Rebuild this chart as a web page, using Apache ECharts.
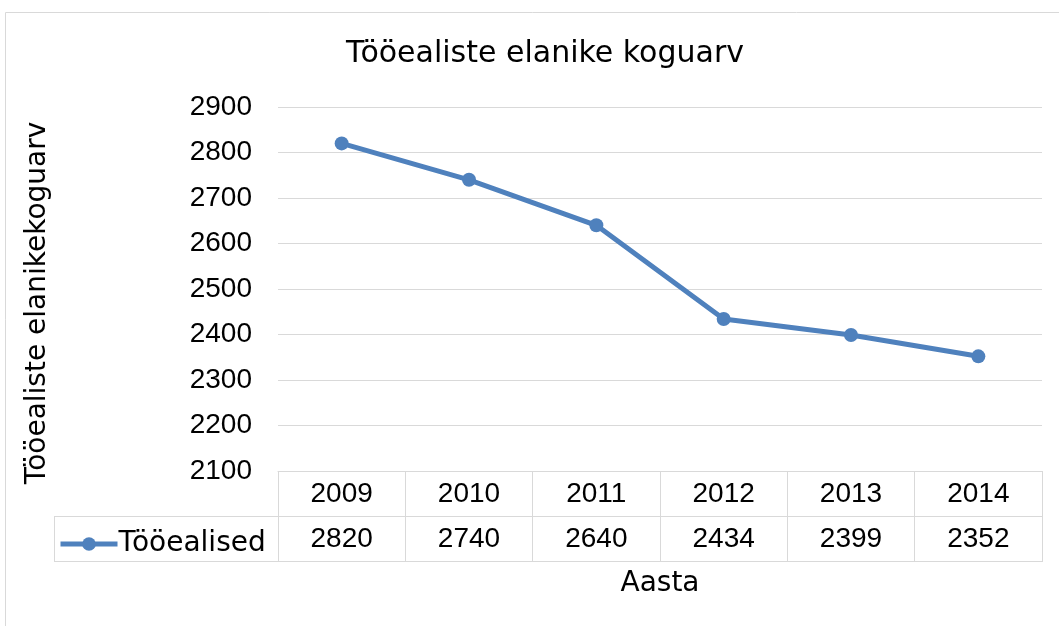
<!DOCTYPE html>
<html>
<head>
<meta charset="utf-8">
<script src="https://cdn.jsdelivr.net/npm/echarts@6/dist/echarts.min.js"></script>
<style>
  html, body { margin: 0; padding: 0; background: #fff; }
  #main { width: 1059px; height: 626px; }
</style>
</head>
<body>
<div id="main"></div>
<script>
// andmed
const years = ['2009', '2010', '2011', '2012', '2013', '2014'];
const workingAge = [2820, 2740, 2640, 2434, 2399, 2352];
const seriesName = 'Tööealised';

const numFont = 'Liberation Sans';
const txtFont = 'DejaVu Sans';
const gridCol = '#d9d9d9';
const lineCol = '#4f81bd';

// tabeli piirid (px)
const gLeft = 278, gRight = 17, gTop = 107, gBottom = 155;
const tabTop = 626 - gBottom;     // 471
const rowH = 45;
const legLeft = 54;
const tabRight = 1059 - gRight;

const chart = echarts.init(document.getElementById('main'));

const option = {
  animation: false,
  title: {
    text: 'Tööealiste elanike koguarv',
    left: 540,
    top: 34,
    textAlign: 'center',
    textStyle: { fontFamily: txtFont, fontSize: 30, fontWeight: 'normal', color: '#000' }
  },
  legend: {
    data: [seriesName],
    left: legLeft - 1,
    top: tabTop + rowH + 9,
    itemWidth: 57,
    itemHeight: 17,
    itemGap: 4,
    lineStyle: { width: 5 },
    textStyle: { fontFamily: txtFont, fontSize: 28, color: '#000', padding: [0, 0, 0, -4] }
  },
  grid: { left: gLeft, right: gRight, top: gTop, bottom: gBottom },
  xAxis: [
    {
      type: 'category',
      data: years,
      boundaryGap: true,
      axisLine: { lineStyle: { color: gridCol, width: 1 } },
      axisTick: { show: true, length: rowH * 2 + 1, lineStyle: { color: gridCol } },
      axisLabel: { margin: 9, fontFamily: numFont, fontSize: 28, color: '#000' },
      splitLine: { show: false }
    },
    {
      type: 'category',
      data: workingAge.map(String),
      position: 'bottom',
      offset: rowH,
      boundaryGap: true,
      axisLine: { lineStyle: { color: gridCol, width: 1 } },
      axisTick: { show: false },
      axisLabel: { margin: 9, fontFamily: numFont, fontSize: 28, color: '#000' },
      name: 'Aasta',
      nameLocation: 'middle',
      nameGap: 54,
      nameTextStyle: { fontFamily: txtFont, fontSize: 28, color: '#000' }
    }
  ],
  yAxis: {
    type: 'value',
    min: 2100,
    max: 2900,
    interval: 100,
    axisLine: { show: false },
    axisTick: { show: false },
    splitLine: { lineStyle: { color: gridCol, width: 1 } },
    axisLabel: {
      margin: 26, fontFamily: numFont, fontSize: 28, color: '#000',
      formatter: function (v) { return String(v); }
    },
    name: 'Tööealiste elanikekoguarv',
    nameLocation: 'middle',
    nameRotate: 90,
    nameGap: 226,
    nameTextStyle: { fontFamily: txtFont, fontSize: 28, color: '#000', padding: [0, 28, 0, 0] }
  },
  series: [{
    name: seriesName,
    type: 'line',
    xAxisIndex: 0,
    data: workingAge,
    symbol: 'circle',
    symbolSize: 14,
    lineStyle: { color: lineCol, width: 5 },
    itemStyle: { color: lineCol }
  }],
  graphic: [
    // välimine raam
    { type: 'rect', shape: { x: 5.5, y: 12.5, width: 1070, height: 640 },
      style: { fill: 'none', stroke: gridCol, lineWidth: 1 }, z: -1 },
    // tabeli legendilahter
    { type: 'line', shape: { x1: legLeft, y1: tabTop + rowH + 0.5, x2: gLeft, y2: tabTop + rowH + 0.5 },
      style: { stroke: gridCol, lineWidth: 1 } },
    { type: 'line', shape: { x1: legLeft, y1: tabTop + rowH * 2 + 0.5, x2: tabRight, y2: tabTop + rowH * 2 + 0.5 },
      style: { stroke: gridCol, lineWidth: 1 } },
    { type: 'line', shape: { x1: legLeft + 0.5, y1: tabTop + rowH, x2: legLeft + 0.5, y2: tabTop + rowH * 2 + 1 },
      style: { stroke: gridCol, lineWidth: 1 } }
  ]
};

chart.setOption(option);
</script>
</body>
</html>
